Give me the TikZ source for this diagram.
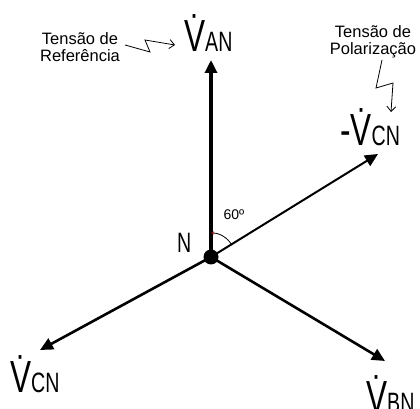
\documentclass[tikz,border=0pt]{standalone}
\usepackage{fontspec}
\setmainfont{Liberation Sans}
\newfontfamily\phasorfont[FakeStretch=0.7]{Liberation Sans}
\usetikzlibrary{arrows.meta}
\newcommand\phsub[1]{{\fontsize{28}{28}\selectfont #1}}
\begin{document}
\begin{tikzpicture}[x=1pt, y=1pt,
  vec/.style={line width=2.6pt, -{Triangle[length=13pt, width=12pt]}},
  phasor/.style={inner sep=0pt, anchor=base west, font=\phasorfont\fontsize{45}{45}\selectfont},
  note/.style={align=center, inner sep=0pt, font=\fontsize{16.5}{17}\selectfont},
  bolt/.style={line width=0.8pt, -{Straight Barb[length=5pt, width=9pt]}}]
\useasboundingbox (0,0) rectangle (420,409);

\node[circle, fill=black, minimum size=15pt, inner sep=0pt](n) at (211,152) {};
\coordinate (an) at (211,349);
\coordinate (mcn) at (378,255);
\coordinate (cn) at (40,59);
\coordinate (bn) at (385,48);

\draw[vec, line width=3.2pt] (n.center) to (an);
\draw[vec, line width=2pt] (n.center) to (mcn);
\draw[vec] (n.center) to (cn);
\draw[vec] (n.center) to (bn);

% phasor labels
\node[phasor](lan) at (184,357) {\.{V}\phsub{AN}};
\node[phasor](lmcn) at (340,263) {-\.{V}\phsub{CN}};
\node[phasor](lcn) at (10,16) {\.{V}\phsub{CN}};
\node[phasor](lbn) at (366,-4) {\.{V}\phsub{BN}};
\node[phasor, font=\phasorfont\fontsize{28}{28}\selectfont](ln) at (177,156) {N};

% angle
\draw[line width=0.8pt, -{Stealth[length=3pt, width=3pt, red!60!black]}] ([shift={(30:24)}]n.center) arc[start angle=30, end angle=90, radius=24];
\node[font=\fontsize{14}{14}\selectfont, inner sep=0pt](ang) at (234,194) {60º};

% notes
\node[note](ref) at (80,362) {Tensão de\\Referência};
\node[note](pol) at (373,367) {Tensão de\\Polarização};
\coordinate (r1) at (125,364);
\coordinate (r2) at (150,357);
\coordinate (r3) at (145,369);
\coordinate (r4) at (175,364);
\draw[bolt] (r1) -- (r2) -- (r3) -- (r4);
\coordinate (p1) at (382,349);
\coordinate (p2) at (376,321);
\coordinate (p3) at (393,326);
\coordinate (p4) at (391,297);
\draw[bolt] (p1) -- (p2) -- (p3) -- (p4);

\end{tikzpicture}
\end{document}
